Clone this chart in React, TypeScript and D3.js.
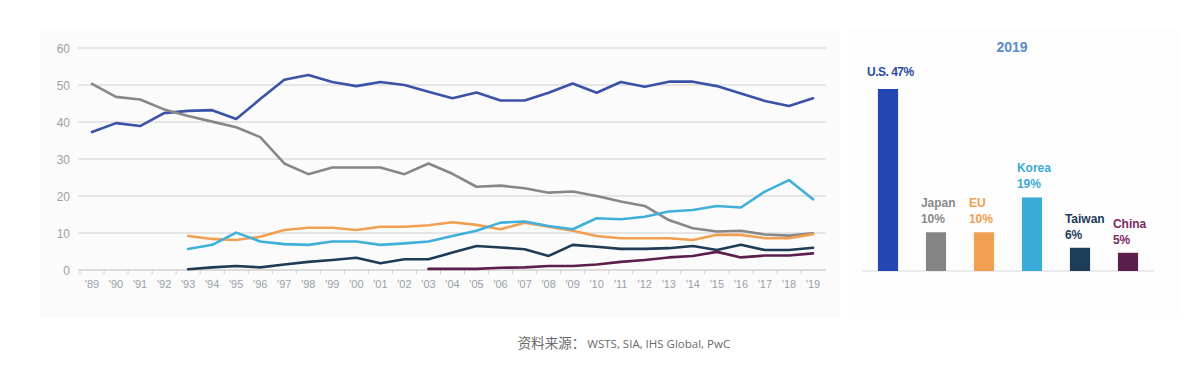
import React from "react";
import * as d3 from "d3";

const years = d3.range(1989, 2020);
const yearLabels = years.map((y) => "'" + String(y).slice(2));
const yTicks = [0, 10, 20, 30, 40, 50, 60];

const usShare = [37.3, 39.7, 38.9, 42.4, 43, 43.2, 40.8, 46.2, 51.4, 52.7, 50.8, 49.7, 50.8, 50.0, 48.2, 46.4, 48.0, 45.8, 45.8, 47.9, 50.4, 47.9, 50.8, 49.5, 50.9, 50.9, 49.7, 47.7, 45.7, 44.3, 46.4];
const japanShare = [50.3, 46.8, 46.1, 43.4, 41.6, 40.1, 38.6, 35.9, 28.8, 25.9, 27.7, 27.7, 27.7, 25.9, 28.8, 26.0, 22.5, 22.8, 22.1, 20.9, 21.2, 20.0, 18.5, 17.3, 13.5, 11.3, 10.4, 10.6, 9.6, 9.3, 9.9];
const euShare: (number | null)[] = [null, null, null, null, 9.2, 8.4, 8.1, 9.0, 10.8, 11.4, 11.4, 10.8, 11.7, 11.7, 12.1, 12.9, 12.2, 11.0, 12.8, 11.7, 10.6, 9.2, 8.6, 8.6, 8.6, 8.1, 9.5, 9.5, 8.6, 8.6, 9.7];
const koreaShare: (number | null)[] = [null, null, null, null, 5.7, 6.8, 10.1, 7.7, 7.0, 6.8, 7.7, 7.7, 6.8, 7.2, 7.7, 9.2, 10.6, 12.8, 13.1, 11.9, 11.0, 14.0, 13.7, 14.4, 15.8, 16.2, 17.3, 16.9, 21.2, 24.3, 19.1];
const taiwanShare: (number | null)[] = [null, null, null, null, 0.2, 0.7, 1.1, 0.7, 1.5, 2.2, 2.7, 3.3, 1.8, 2.9, 2.9, 4.7, 6.5, 6.1, 5.6, 3.8, 6.8, 6.3, 5.7, 5.7, 5.9, 6.5, 5.4, 6.8, 5.4, 5.4, 6.0];
const chinaShare: (number | null)[] = [null, null, null, null, null, null, null, null, null, null, null, null, null, null, 0.3, 0.3, 0.3, 0.6, 0.7, 1.1, 1.1, 1.5, 2.2, 2.7, 3.4, 3.8, 4.9, 3.4, 3.9, 3.9, 4.5];

const barCategories = ["U.S.", "Japan", "EU", "Korea", "Taiwan", "China"];
const barValues = [47, 10, 10, 19, 6, 4.7];
const barLabels = ["47%", "10%", "10%", "19%", "6%", "5%"];

const lineColors = ["#3a52a8", "#878787", "#f0a050", "#3fb0da", "#1e3c56", "#5c1e4c"];
const barColors = ["#2446b2", "#858585", "#f0a050", "#3aaad8", "#1c3c58", "#5a1e4c"];
const labelColors = ["#2a4aa0", "#8a8a8a", "#f0a050", "#3aaad8", "#1c3c58", "#7a2a5e"];

const series = [usShare, japanShare, euShare, koreaShare, taiwanShare, chinaShare];

export default function App() {
  const x = d3.scaleLinear().domain([1989, 2019]).range([92, 813]);
  const y = d3.scaleLinear().domain([0, 60]).range([270, 48]);
  const line = d3
    .line<number | null>()
    .defined((d) => d !== null)
    .x((_, i) => x(years[i]))
    .y((d) => y(d as number))
    .curve(d3.curveLinear);

  const xb = d3.scaleBand<string>().domain(barCategories).range([864, 1152]).paddingInner(0.58).paddingOuter(0.29);
  const yb = d3.scaleLinear().domain([0, 47]).range([271, 89]);

  const font = "'Liberation Sans', Arial, sans-serif";

  return (
    <svg width={1192} height={378} style={{ position: "absolute", left: 0, top: 0, background: "#fff" }} fontFamily={font}>
      <rect x={40} y={28} width={800} height={290} fill="#fbfbfc" />
      <rect x={848} y={28} width={330} height={290} fill="#fdfdfd" />
      {yTicks.map((t) => (
        <g key={t}>
          <line x1={78} x2={826} y1={y(t)} y2={y(t)} stroke={t === 0 ? "#bdbdbd" : "#cfcfcf"} strokeWidth={1.2} />
          <text x={70} y={y(t) + 4.5} textAnchor="end" fontSize={12} fill="#a0a0a0">
            {t}
          </text>
        </g>
      ))}
      {years.map((yr, i) => (
        <g key={yr}>
          <line x1={x(yr) - 12} x2={x(yr) - 12} y1={270} y2={274} stroke="#cfcfcf" />
          <text x={x(yr)} y={288} textAnchor="middle" fontSize={11} fill="#9aa0a8">
            {yearLabels[i]}
          </text>
        </g>
      ))}
      {series.map((s, k) => (
        <path key={k} d={line(s as (number | null)[]) || ""} fill="none" stroke={lineColors[k]} strokeWidth={2.6} strokeLinejoin="round" strokeLinecap="round" />
      ))}

      <text x={1012} y={52} textAnchor="middle" fontSize={14} fontWeight="bold" fill="#5a8cc8">
        2019
      </text>
      <line x1={862} x2={1154} y1={271} y2={271} stroke="#d8d8d8" />
      {barCategories.map((c, i) => {
        const bx = xb(c) as number;
        const top = yb(barValues[i]);
        return (
          <g key={c}>
            <rect x={bx} y={top} width={xb.bandwidth()} height={271 - top} fill={barColors[i]} />
            {i === 0 ? (
              <text x={867} y={76} fontSize={12} fontWeight="bold" fill={labelColors[i]} letterSpacing={-0.5}>
                {c} {barLabels[i]}
              </text>
            ) : (
              <g>
                <text x={bx - 5} y={top - 25} fontSize={12} fontWeight="bold" fill={labelColors[i]}>
                  {c}
                </text>
                <text x={bx - 5} y={top - 9} fontSize={12} fontWeight="bold" fill={labelColors[i]}>
                  {barLabels[i]}
                </text>
              </g>
            )}
          </g>
        );
      })}

      <text x={624} y={348} textAnchor="middle" fontSize={11.5} fill="#6a6a6a" fontFamily="'Open Sans', 'Noto Sans CJK SC', sans-serif">
        <tspan fontSize={13.5} fontFamily="'Noto Sans CJK SC', sans-serif">资料来源：</tspan>
        <tspan dx={2}>WSTS, SIA, IHS Global, PwC</tspan>
      </text>
    </svg>
  );
}
